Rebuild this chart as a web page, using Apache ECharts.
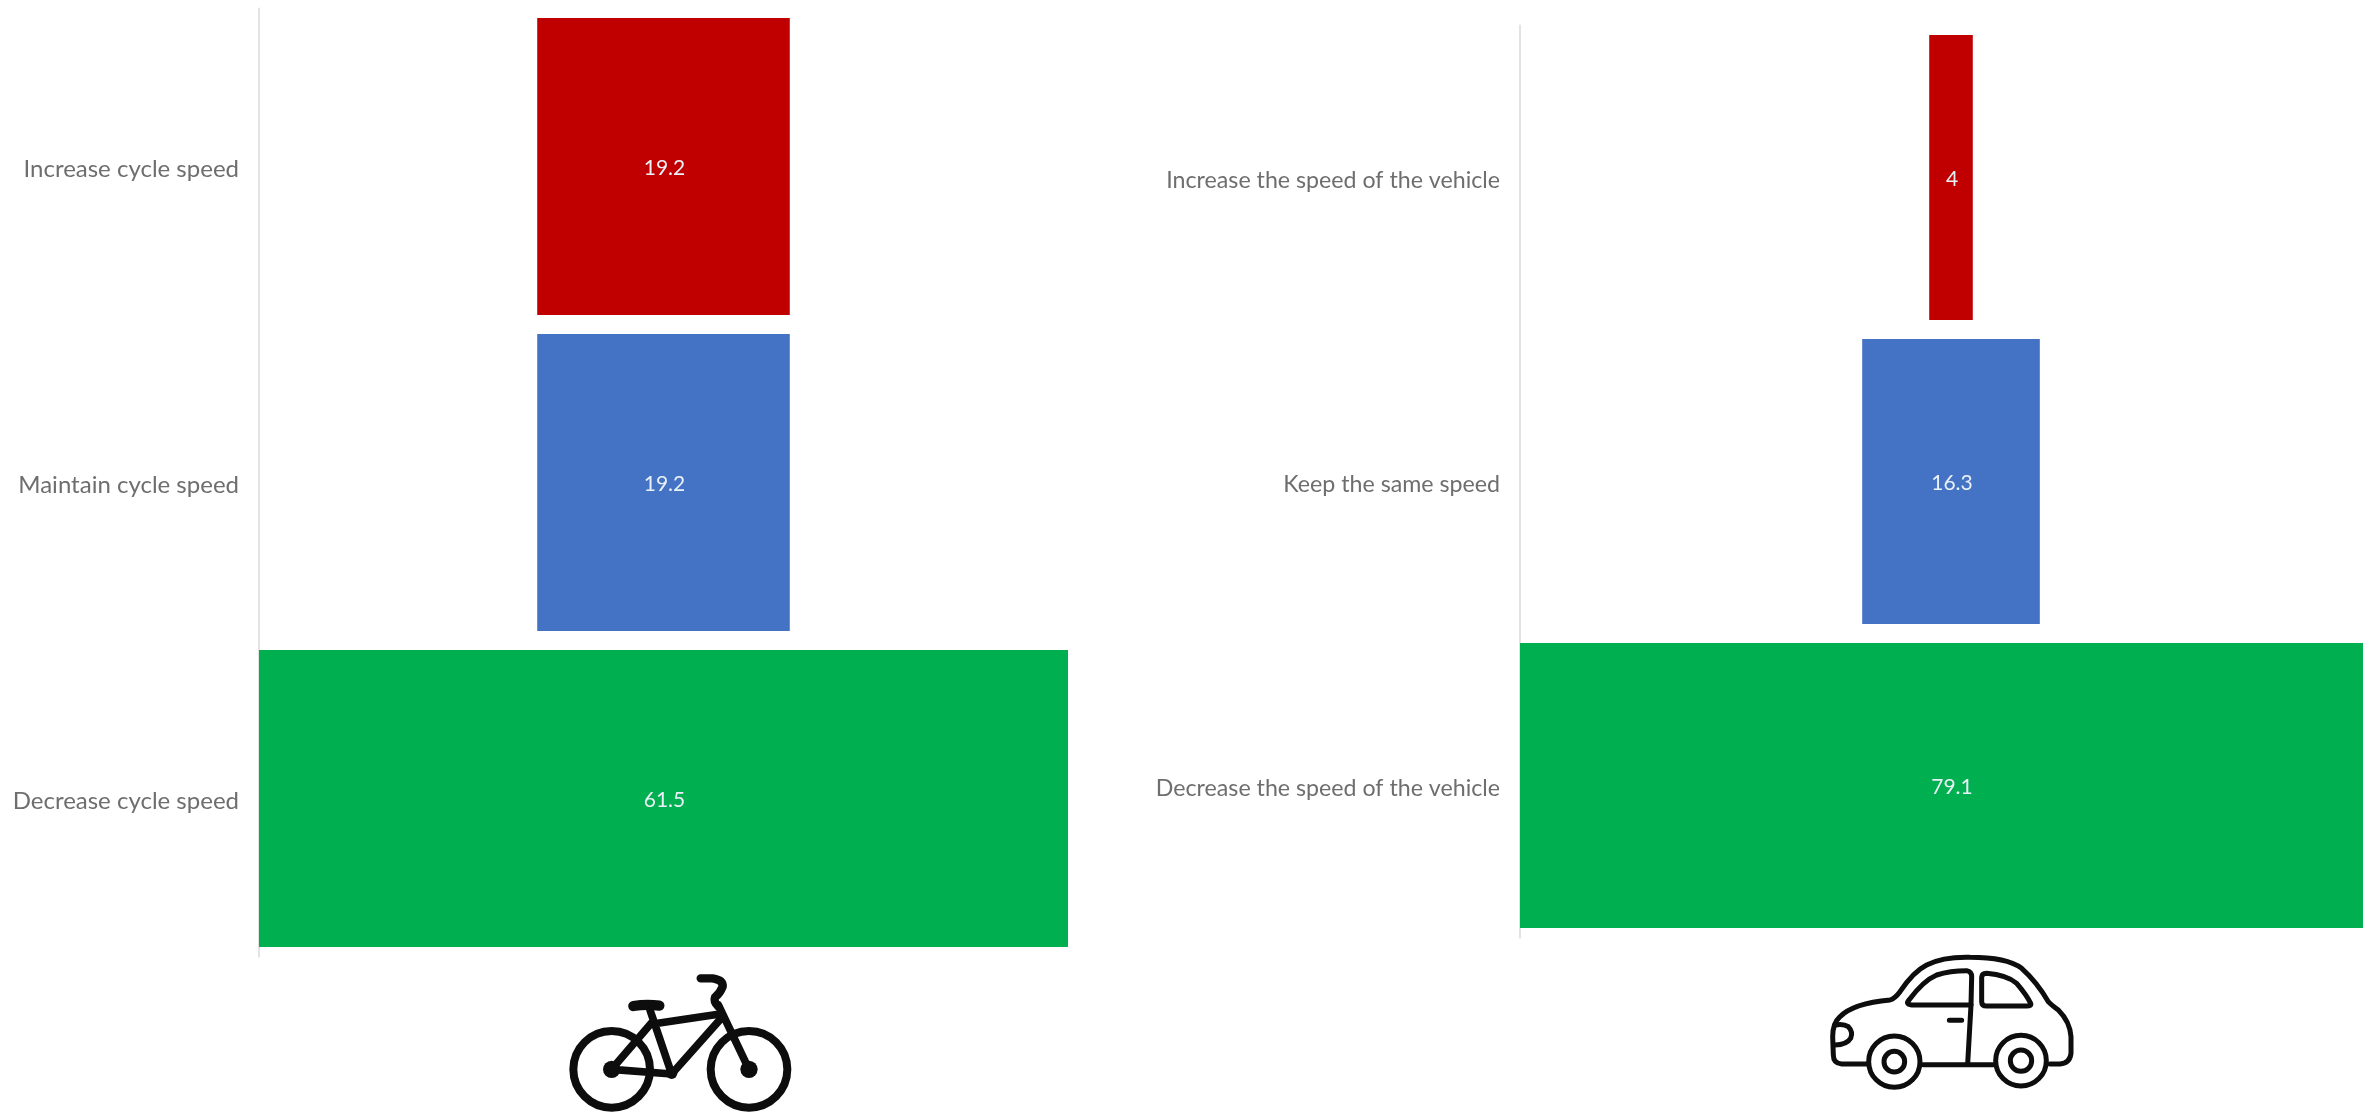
<!DOCTYPE html>
<html>
<head>
<meta charset="utf-8">
<style>html,body{margin:0;padding:0;background:#fff}#c{width:2363px;height:1112px}</style>
<script src="https://cdn.jsdelivr.net/npm/echarts@6/dist/echarts.min.js"></script>
</head>
<body>
<div id="c"></div>
<script>
const bikeCategories = ['Increase cycle speed', 'Maintain cycle speed', 'Decrease cycle speed'];
const bikeValues = [19.2, 19.2, 61.5];
const carCategories = ['Increase the speed of the vehicle', 'Keep the same speed', 'Decrease the speed of the vehicle'];
const carValues = [4, 16.3, 79.1];
const barColors = ['#C00000', '#4472C4', '#00AF50'];

const FONT = 'Lato';
const LABEL_COLOR = '#6e6e6e';

function yAxis(gridIndex, cats, size) {
  return {
    type: 'category', gridIndex, data: cats, inverse: true, offset: 1,
    axisLine: { show: true, lineStyle: { color: '#e3e3e3', width: 2 } },
    axisTick: { show: false },
    axisLabel: { fontFamily: FONT, fontSize: size, color: LABEL_COLOR, margin: 19, verticalAlign: 'top', lineHeight: 6 }
  };
}
function xAxis(gridIndex, max) {
  return { type: 'value', gridIndex, min: 0, max, show: false, splitLine: { show: false } };
}
function centred(values, idx, gap) {
  const max = Math.max(...values);
  return [
    {
      type: 'bar', stack: 's' + idx, xAxisIndex: idx, yAxisIndex: idx, barCategoryGap: gap,
      silent: true, itemStyle: { color: 'transparent' },
      data: values.map(v => (max - v) / 2)
    },
    {
      type: 'bar', stack: 's' + idx, xAxisIndex: idx, yAxisIndex: idx, barCategoryGap: gap,
      label: { show: true, position: 'inside', offset: [1, 2], fontFamily: FONT, fontSize: 21, color: '#e9f0f6' },
      data: values.map((v, i) => ({ value: v, itemStyle: { color: barColors[i] } }))
    }
  ];
}

let shapeCount = 0;
function svgPath(pathData, style) {
  const name = 'iconPath' + (shapeCount++);
  echarts.graphic.registerShape(name, echarts.graphic.extendPath(pathData));
  return { type: name, style };
}

const bikeLine = w => ({ fill: 'none', stroke: '#0d0d0d', lineWidth: w, lineCap: 'round', lineJoin: 'round' });
const bikeIcon = {
  type: 'group', x: 540, y: 950, scaleX: 1 / 3, scaleY: 1 / 3,
  children: [
    { type: 'circle', shape: { cx: 215, cy: 358, r: 115 }, style: { fill: 'none', stroke: '#0d0d0d', lineWidth: 24 } },
    { type: 'circle', shape: { cx: 627, cy: 358, r: 115 }, style: { fill: 'none', stroke: '#0d0d0d', lineWidth: 24 } },
    { type: 'circle', shape: { cx: 215, cy: 358, r: 26 }, style: { fill: '#0d0d0d' } },
    { type: 'circle', shape: { cx: 627, cy: 358, r: 26 }, style: { fill: '#0d0d0d' } },
    { type: 'circle', shape: { cx: 395, cy: 370, r: 17 }, style: { fill: '#0d0d0d' } },
    svgPath('M215,358 L395,372 L548,200 M215,358 L335,218 M330,180 L395,372 M338,222 L540,192 M535,165 L627,358', bikeLine(23)),
    svgPath('M482,85 L518,85 Q550,90 548,110 Q540,130 525,142 Q520,155 535,170', bikeLine(25)),
    svgPath('M280,168 Q320,162 358,167', bikeLine(31))
  ]
};

const carLine = { fill: 'none', stroke: '#0d0d0d', lineWidth: 15, lineCap: 'round', lineJoin: 'round' };
const carIcon = {
  type: 'group', x: 1810, y: 940, scaleX: 1 / 3, scaleY: 1 / 3,
  children: [
    svgPath('M170,372 L95,372 Q70,370 70,345 L68,290 Q68,250 90,230 Q130,190 240,180 Q255,175 270,155 Q310,95 350,75 Q400,50 480,52 Q590,52 635,85 Q680,125 715,185 Q725,195 745,210 Q780,245 783,290 L783,340 Q780,370 750,372 L720,372 M340,374 L550,374', carLine),
    { type: 'circle', shape: { cx: 253, cy: 365, r: 77 }, style: { fill: '#fff', stroke: '#0d0d0d', lineWidth: 15 } },
    { type: 'circle', shape: { cx: 253, cy: 365, r: 31 }, style: carLine },
    { type: 'circle', shape: { cx: 633, cy: 362, r: 76 }, style: { fill: '#fff', stroke: '#0d0d0d', lineWidth: 15 } },
    { type: 'circle', shape: { cx: 633, cy: 362, r: 32 }, style: carLine },
    svgPath('M297,180 Q340,122 380,105 Q420,92 470,92 Q485,95 485,110 L483,195 L305,195 Q285,193 297,180 Z', carLine),
    svgPath('M515,112 Q515,100 530,100 Q590,105 620,130 Q650,165 662,190 Q665,198 650,198 L530,198 Q515,198 515,185 Z', carLine),
    svgPath('M483,195 L473,372 M418,241 L455,241 M75,255 Q100,250 115,260 Q130,275 122,295 Q110,315 75,315', carLine)
  ]
};

const chart = echarts.init(document.getElementById('c'), null, { renderer: 'canvas' });
chart.setOption({
  animation: false,
  backgroundColor: '#ffffff',
  grid: [
    { left: 259, top: 8.5, width: 809, height: 948, outerBoundsMode: 'none' },
    { left: 1520, top: 25.5, width: 862, height: 912, outerBoundsMode: 'none' }
  ],
  xAxis: [xAxis(0, Math.max(...bikeValues)), xAxis(1, Math.max(...carValues))],
  yAxis: [yAxis(0, bikeCategories, 24), yAxis(1, carCategories, 23.2)],
  series: [...centred(bikeValues, 0, '6%'), ...centred(carValues, 1, '6.25%')],
  graphic: [bikeIcon, carIcon]
});
</script>
</body>
</html>
